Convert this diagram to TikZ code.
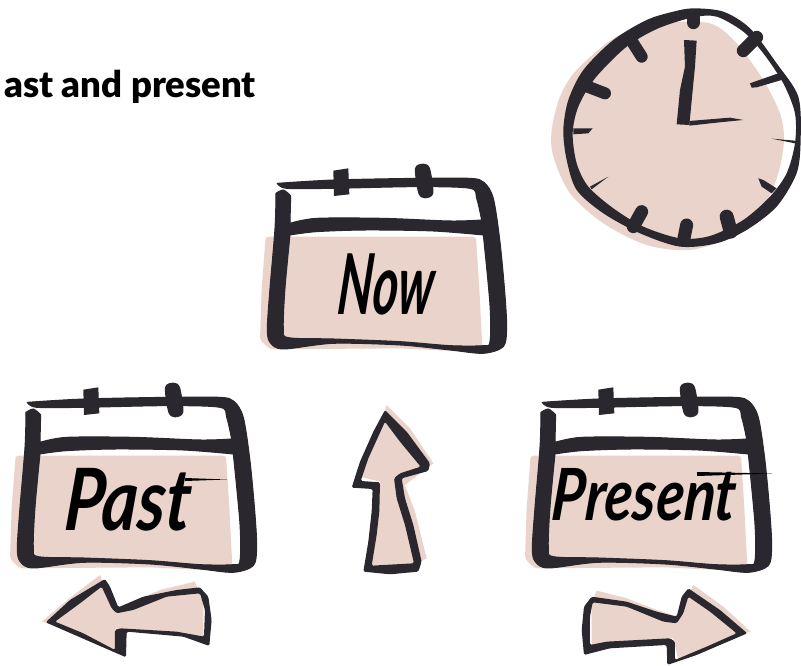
\documentclass[tikz,border=0pt]{standalone}
\usepackage{fontspec}
\newfontfamily\headfont{Lato}[BoldFont={Lato Black}]
\newfontfamily\brushfont{Lato}
\definecolor{ink}{HTML}{2A272E}
\definecolor{blush}{HTML}{E9D3CA}
\tikzset{
  zoomed/.style={x=.3333pt,y=-.3333pt},
  brush/.style={text=black,inner sep=0pt,transform shape},
  tick/.style={ink,line cap=round},
  calendar/.pic={
    \begin{scope}[zoomed]
    % beige card behind the frame
    \fill[blush,rounded corners=3pt] (47,245) -- (678,245) -- (688,400) -- (697,575) -- (690,592)
      -- (450,580) -- (200,582) -- (60,583) -- (30,555) -- (35,400) -- cycle;
    % frame with its one window
    \filldraw[ink,line width=1pt,even odd rule] plot[smooth] coordinates {(82,85) (250,75) (500,70) (660,70) (702,82)
        (730,130) (750,260) (765,420) (770,520) (760,575) (700,595) (600,585) (450,570) (250,565)
        (100,582) (60,562) (52,520) (60,400) (75,220) (78,115)}
      -- plot[smooth] coordinates {(78,115) (100,105) (122,122)}
      -- (120,205)
      -- plot[smooth] coordinates {(120,205) (200,190) (400,190) (600,198) (695,195)}
      -- plot[smooth] coordinates {(695,195) (680,130) (660,100) (500,95) (250,100) (110,100) (82,85)}
      -- cycle
      plot[smooth] coordinates {(120,240) (200,230) (350,225) (550,228) (700,240)}
      -- plot[smooth] coordinates {(700,240) (720,450) (720,560) (700,572) (600,572) (450,560)
        (250,552) (115,548) (100,520) (105,400) (120,240)}
      -- cycle;
    % rings
    \fill[ink] (250,47) -- (295,40) -- (298,118) -- (252,123) -- cycle;
    \fill[ink] plot[smooth cycle] coordinates {(495,40) (520,26) (540,40) (550,115) (525,130) (505,115)};
    \end{scope}
  }
}
\begin{document}
\begin{tikzpicture}[x=1pt,y=-1pt]
  \useasboundingbox (0,0) rectangle (801,666);
  \clip (0,0) rectangle (801,666);
  \node[anchor=base east,inner sep=0pt,font=\headfont\bfseries\fontsize{36.5}{36.5}\selectfont] (title) at (256,98) {ast and present};
  % clock
  \begin{scope}[shift={(530,0)},zoomed]
    \fill[blush] plot[smooth cycle] coordinates {(540,70) (620,130) (700,240) (750,340) (762,420)
      (745,520) (700,620) (600,710) (480,750) (350,735) (220,670) (120,580) (70,470) (65,390)
      (90,290) (140,210) (260,110) (400,70)};
    \fill[ink,even odd rule] plot[smooth cycle] coordinates {(490,25) (580,35) (660,85) (740,190)
        (805,290) (812,420) (800,520) (740,620) (650,690) (560,730) (450,740) (330,700) (220,640)
        (140,570) (110,480) (100,390) (115,300) (160,210) (250,120) (350,60) (430,35)}
      plot[smooth cycle] coordinates {(490,52) (560,50) (640,95) (700,160) (760,250) (795,340)
        (795,430) (770,520) (720,590) (640,660) (540,708) (450,715) (340,680) (250,625) (175,560)
        (140,490) (128,400) (145,320) (195,235) (290,140) (385,85)};
    \draw[tick,line width=13pt] (490,50) -- (490,68);
    \draw[tick,line width=13pt] (680,112) -- (640,152);
    \fill[tick] (745,220) -- (660,250) -- (665,263) -- (680,262) -- (755,240) -- cycle;
    \fill[tick] (725,416) -- (795,422) -- (795,430) -- cycle;
    \fill[tick] (685,535) -- (700,540) -- (740,565) -- (725,580) -- (695,560) -- cycle;
    \draw[tick,line width=14pt] (590,650) -- (602,695);
    \draw[tick,line width=13pt] (470,675) -- (462,715);
    \draw[tick,line width=13pt] (335,635) -- (310,680);
    \fill[tick] (235,530) -- (180,560) -- (185,568) -- cycle;
    \fill[tick] (130,385) -- (188,385) -- (175,400) -- (130,403) -- cycle;
    \draw[tick,line width=12pt] (225,280) -- (160,255);
    \draw[tick,line width=12pt] (335,170) -- (300,115);
    \fill[ink] (462,120) -- (500,122) -- (495,200) -- (478,375) -- (440,373) -- (450,270) -- (465,200) -- cycle;
    \fill[ink] (478,363) -- (600,353) -- (640,360) -- (560,368) -- (478,377) -- cycle;
  \end{scope}
  % calendars
  \pic at (250,155) {calendar};
  \pic at (0,374) {calendar};
  \pic at (515,374) {calendar};
  \node[brush,font=\brushfont\bfseries\itshape\fontsize{84}{84}\selectfont,xscale=.58,xslant=.15] (now) at (387,284) {Now};
  \node[brush,font=\brushfont\bfseries\itshape\fontsize{86}{86}\selectfont,xscale=.8,xslant=.1] (past) at (129,500) {Past};
  \node[brush,font=\brushfont\bfseries\itshape\fontsize{72}{72}\selectfont,xscale=.8,xslant=.1] (present) at (645,495) {Present};
  \fill[black] (185,478) -- (227,479.5) -- (185,481) -- cycle;
  \fill[black] (697,472) -- (772,473.5) -- (697,476) -- cycle;
  % arrows
  \begin{scope}[shift={(330,395)},zoomed]
    \fill[blush] (170,30) -- (240,100) -- (310,205) -- (225,270) -- (255,350) -- (290,490) -- (250,510) -- (120,510)
      -- (150,260) -- (90,245) -- (120,170) -- cycle;
    \fill[ink,even odd rule,rounded corners=1.5pt] (165,45) -- (230,110) -- (300,205) -- (295,228) -- (215,250)
      -- (225,310) -- (250,390) -- (275,500) -- (265,530) -- (180,538) -- (100,530) -- (115,440) -- (125,350)
      -- (128,282) -- (65,278) -- (90,200) -- (130,110) -- cycle
      (165,80) -- (210,140) -- (272,215) -- (210,235) -- (192,250) -- (200,310) -- (225,390) -- (252,505)
      -- (125,512) -- (140,420) -- (148,350) -- (150,262) -- (92,258) -- (115,190) -- cycle;
  \end{scope}
  \begin{scope}[shift={(0,370)},zoomed]
    \fill[blush] (125,755) -- (215,680) -- (300,615) -- (330,690) -- (360,712) -- (480,660) -- (585,635)
      -- (610,700) -- (610,800) -- (350,775) -- (345,840) -- (250,790) -- cycle;
    \fill[ink,even odd rule,rounded corners=1.5pt] (137,757) -- (210,690) -- (315,627) -- (330,650) -- (355,712)
      -- (430,680) -- (530,660) -- (600,652) -- (625,680) -- (635,750) -- (628,828) -- (550,800) -- (380,785)
      -- (378,862) -- (270,815) -- cycle
      (165,755) -- (240,700) -- (305,650) -- (335,715) -- (350,730) -- (400,720) -- (500,680) -- (600,670)
      -- (615,720) -- (612,800) -- (530,785) -- (360,775) -- (345,780) -- (345,840) -- (250,790) -- cycle;
  \end{scope}
  \begin{scope}[shift={(510,370)},zoomed]
    \fill[blush] (722,785) -- (640,710) -- (550,645) -- (505,740) -- (440,720) -- (350,685) -- (260,662)
      -- (245,700) -- (245,825) -- (490,805) -- (505,870) -- (600,830) -- cycle;
    \fill[ink,even odd rule,rounded corners=1.5pt] (712,790) -- (630,720) -- (535,655) -- (515,680) -- (500,740)
      -- (440,725) -- (350,695) -- (245,680) -- (222,710) -- (215,780) -- (222,855) -- (300,835) -- (470,825)
      -- (472,885) -- (560,855) -- cycle
      (680,790) -- (600,725) -- (535,680) -- (520,730) -- (500,760) -- (460,755) -- (350,710) -- (248,697)
      -- (240,740) -- (240,825) -- (290,815) -- (480,805) -- (495,815) -- (495,870) -- (590,830) -- cycle;
  \end{scope}
\end{tikzpicture}
\end{document}
